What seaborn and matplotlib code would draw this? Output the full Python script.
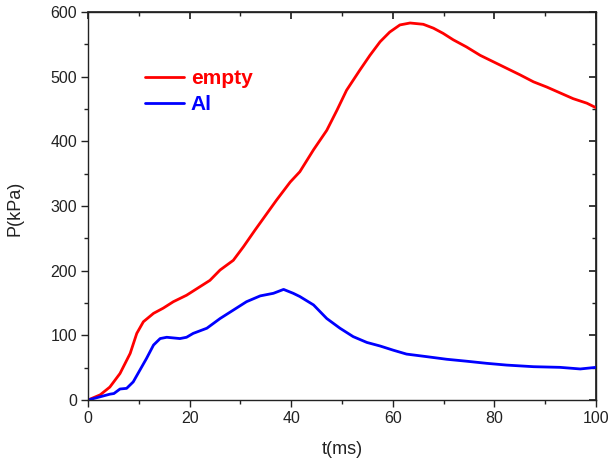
import matplotlib
matplotlib.use("Agg")
import matplotlib.pyplot as plt
import seaborn as sns
import pandas as pd
from matplotlib.ticker import MultipleLocator

# --- data ---
t_empty = [0, 2.4, 4.3, 6.3, 8.3, 9.6, 10.9, 12.9, 14.8, 16.8, 19.4, 22.0, 24.0, 26.0,
           28.6, 30.6, 32.9, 37.1, 39.8, 41.7, 44.4, 47.0, 49.0, 50.9, 53.5, 55.5, 57.5,
           59.4, 61.4, 63.4, 66.0, 68.0, 69.9, 71.9, 74.5, 77.2, 79.8, 82.4, 85.0, 87.7,
           90.3, 92.9, 95.5, 98.2, 100.0]
p_empty = [0, 8, 20, 41, 72, 103, 121, 134, 142, 152, 162, 175, 185, 201,
           216, 237, 263, 309, 337, 353, 387, 417, 448, 479, 510, 533, 554,
           569, 580, 583, 581, 575, 567, 557, 546, 533, 523, 513, 503, 492,
           484, 475, 466, 459, 452]

t_al = [0, 2.4, 4.3, 5.1, 6.3, 7.6, 8.9, 10.2, 11.5, 12.9, 14.2, 15.5, 18.1, 19.4,
        20.7, 23.4, 26.0, 28.6, 31.2, 33.9, 36.5, 38.5, 40.4, 41.7, 44.4, 47.0, 49.6,
        52.2, 54.9, 57.5, 60.1, 62.7, 66.7, 70.6, 74.5, 78.5, 82.4, 87.7, 92.9, 96.9,
        100.0]
p_al = [0, 5, 9, 10, 17, 18, 28, 46, 64, 85, 95, 97, 95, 97,
        103, 111, 126, 139, 152, 161, 165, 171, 165, 160, 147, 126, 111,
        98, 89, 83.5, 77, 71, 67, 63, 60, 56.7, 54, 51.5, 50.5, 48,
        50.5]

series_names = ["empty", "Al"]
series_colors = ["#ff0000", "#0000ff"]

x_label = "t(ms)"
y_label = "P(kPa)"

df = pd.concat([
    pd.DataFrame({"t": t_empty, "P": p_empty, "sample": series_names[0]}),
    pd.DataFrame({"t": t_al, "P": p_al, "sample": series_names[1]}),
], ignore_index=True)

sns.set_theme(style="ticks")
plt.rcParams["font.family"] = ["Liberation Sans", "DejaVu Sans"]

fig = plt.figure(figsize=(6.08, 4.63), dpi=100)
ax = fig.add_axes([88 / 608, 63 / 463, 508 / 608, 388 / 463])

sns.lineplot(data=df, x="t", y="P", hue="sample", hue_order=series_names,
             palette=series_colors, linewidth=2.0, ax=ax, legend=False)

ax.set_xlim(0, 100)
ax.set_ylim(0, 600)
ax.xaxis.set_major_locator(MultipleLocator(20))
ax.xaxis.set_minor_locator(MultipleLocator(10))
ax.yaxis.set_major_locator(MultipleLocator(100))
ax.yaxis.set_minor_locator(MultipleLocator(50))
ax.tick_params(axis="both", which="major", direction="out", length=5, width=1,
               labelsize=11.5, colors="#222222", labelcolor="#222222", pad=3)
ax.tick_params(axis="both", which="minor", direction="out", length=3, width=1,
               colors="#222222")
for s in ax.spines.values():
    s.set_linewidth(1.0)
    s.set_color("#222222")

# mirrored inward ticks on top/right
secx = ax.secondary_xaxis("top")
secx.xaxis.set_major_locator(MultipleLocator(20))
secx.xaxis.set_minor_locator(MultipleLocator(10))
secx.tick_params(which="major", direction="in", length=5, labeltop=False, colors="#222222")
secx.tick_params(which="minor", direction="in", length=3, colors="#222222")
secy = ax.secondary_yaxis("right")
secy.yaxis.set_major_locator(MultipleLocator(100))
secy.yaxis.set_minor_locator(MultipleLocator(50))
secy.tick_params(which="major", direction="in", length=5, labelright=False, colors="#222222")
secy.tick_params(which="minor", direction="in", length=3, colors="#222222")

ax.set_xlabel(x_label, fontsize=13, color="#222222", va="center")
ax.xaxis.set_label_coords((342 - 88) / 508, (400 - 450) / 388)
ax.set_ylabel(y_label, fontsize=13, color="#222222", va="center")
ax.yaxis.set_label_coords((15 - 88) / 508, (400 - 208) / 388)

handles = [plt.Line2D([], [], color=c, linewidth=2.0) for c in series_colors]
ax.legend(handles, series_names, loc="upper left",
          bbox_to_anchor=((145 - 88) / 508, (400 - 69) / 388),
          frameon=False, labelcolor=series_colors, handlelength=1.87,
          handletextpad=0.32, labelspacing=0.36, borderpad=0, borderaxespad=0,
          prop={"weight": "bold", "size": 15, "family": ["Liberation Sans", "DejaVu Sans"]})

fig.savefig("out.png", dpi=100)
